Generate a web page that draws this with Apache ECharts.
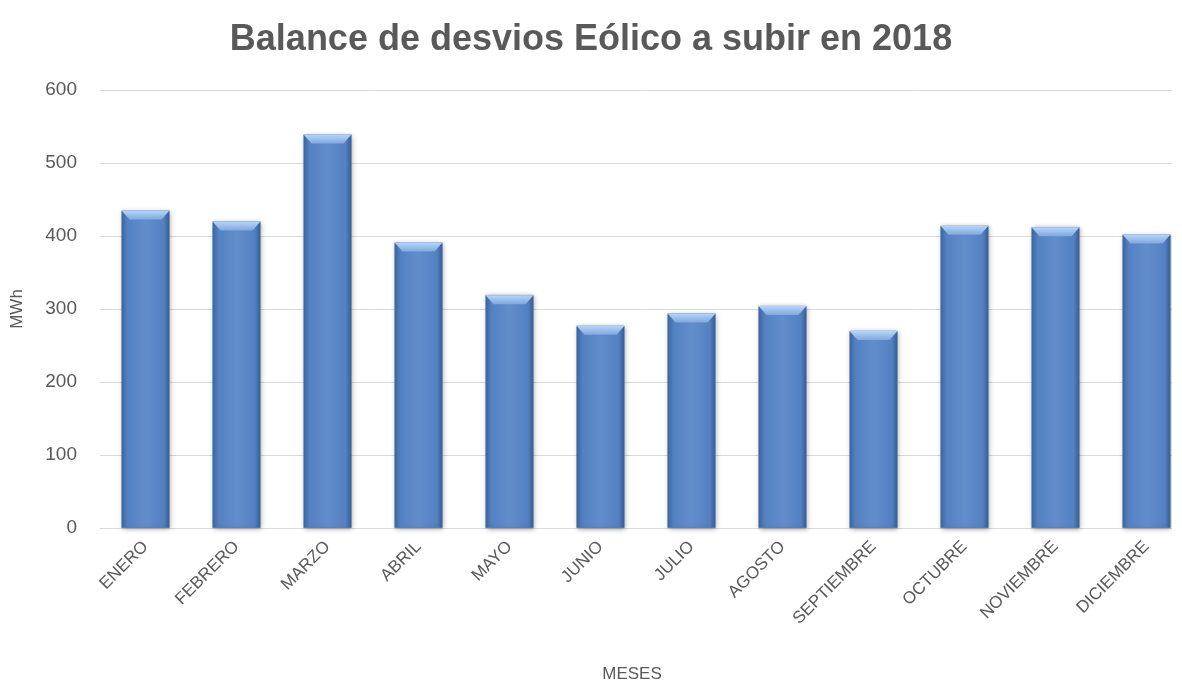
<!DOCTYPE html>
<html>
<head>
<meta charset="utf-8">
<script src="https://cdn.jsdelivr.net/npm/echarts@6/dist/echarts.min.js"></script>
<style>
html,body{margin:0;padding:0;background:#fff;}
#main{width:1182px;height:686px;}
</style>
</head>
<body>
<div id="main"></div>
<script>
const months = ['ENERO','FEBRERO','MARZO','ABRIL','MAYO','JUNIO','JULIO','AGOSTO','SEPTIEMBRE','OCTUBRE','NOVIEMBRE','DICIEMBRE'];
const values = [435, 420, 539, 391, 319, 277, 294, 304, 270, 414, 412, 402];
const yTicks = [0, 100, 200, 300, 400, 500, 600];

const chart = echarts.init(document.getElementById('main'));
const font = 'Liberation Sans, Arial, sans-serif';
chart.setOption({
  animation: false,
  backgroundColor: '#ffffff',
  title: {
    text: 'Balance de desvios Eólico a subir en 2018',
    left: 'center',
    top: 17,
    textStyle: { fontFamily: font, fontWeight: 'bold', fontSize: 36, color: '#595959' }
  },
  grid: { left: 100, width: 1092, top: 90, height: 438, containLabel: false, outerBoundsMode: 'none' },
  xAxis: {
    type: 'category',
    data: months,
    name: 'MESES',
    nameLocation: 'middle',
    nameGap: 138,
    nameTextStyle: { fontFamily: font, fontSize: 17, color: '#595959', padding: [0, 28, 0, 0] },
    axisLine: { lineStyle: { color: '#d9d9d9', width: 1 } },
    axisTick: { show: false },
    axisLabel: { rotate: 45, fontFamily: font, fontSize: 17, color: '#595959', margin: 16, interval: 0 }
  },
  yAxis: {
    type: 'value',
    min: yTicks[0],
    max: yTicks[yTicks.length - 1],
    interval: 100,
    name: 'MWh',
    nameLocation: 'middle',
    nameGap: 74,
    nameRotate: 90,
    nameTextStyle: { fontFamily: font, fontSize: 17, color: '#595959' },
    axisLine: { show: false },
    axisTick: { show: false },
    axisLabel: { fontFamily: font, fontSize: 19, color: '#595959', margin: 23 },
    splitLine: { lineStyle: { color: '#d9d9d9', width: 1 } }
  },
  series: [
    {
      type: 'bar',
      data: values,
      barWidth: 48,
      itemStyle: {
        color: new echarts.graphic.LinearGradient(0, 0, 1, 0, [
          { offset: 0, color: '#3d68a2' },
          { offset: 0.12, color: '#5381c1' },
          { offset: 0.5, color: '#628dcb' },
          { offset: 0.88, color: '#5381c1' },
          { offset: 1, color: '#385f97' }
        ]),
        borderColor: '#3b669f',
        borderWidth: 0.5,
        shadowColor: 'rgba(0,0,0,0.35)',
        shadowBlur: 5,
        shadowOffsetX: 1,
        shadowOffsetY: 1
      }
    },
    {
      type: 'pictorialBar',
      data: values,
      symbol: 'path://M0,0 L48,0 L40,8 L8,8 Z',
      symbolSize: [48, 9],
      symbolPosition: 'end',
      symbolOffset: [0, 0],
      barGap: '-100%',
      z: 5,
      itemStyle: {
        color: new echarts.graphic.LinearGradient(0, 0, 0, 1, [
          { offset: 0, color: '#b9d5f6' },
          { offset: 1, color: '#7fa9e0' }
        ])
      }
    }
  ],
  graphic: [
    { type: 'rect', right: 0, top: 80, shape: { width: 10, height: 460 }, style: { fill: '#ffffff' }, z: 100 }
  ]
});
</script>
</body>
</html>
